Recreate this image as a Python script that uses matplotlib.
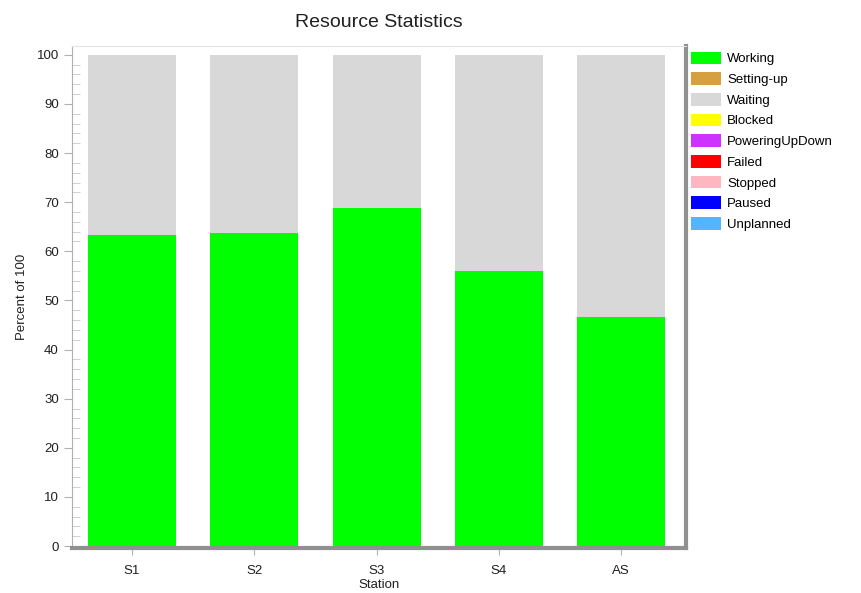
import numpy as np
import matplotlib.pyplot as plt
from matplotlib.patches import Patch
from matplotlib.ticker import MultipleLocator

plt.rcParams['font.family'] = ['Liberation Sans', 'DejaVu Sans']

stations = ['S1', 'S2', 'S3', 'S4', 'AS']
states = ['Working', 'Setting-up', 'Waiting', 'Blocked', 'PoweringUpDown',
          'Failed', 'Stopped', 'Paused', 'Unplanned']
colors = ['#00ff00', '#d4a040', '#d8d8d8', '#ffff00', '#cc33ff',
          '#ff0000', '#ffb6c1', '#0000ff', '#55b4ff']

working = [63.3, 63.7, 68.8, 56.0, 46.6]
setting_up = [0, 0, 0, 0, 0]
waiting = [100 - w for w in working]
blocked = [0, 0, 0, 0, 0]
powering = [0, 0, 0, 0, 0]
failed = [0, 0, 0, 0, 0]
stopped = [0, 0, 0, 0, 0]
paused = [0, 0, 0, 0, 0]
unplanned = [0, 0, 0, 0, 0]
series = [working, setting_up, waiting, blocked, powering,
          failed, stopped, paused, unplanned]

fig = plt.figure(figsize=(8.61, 5.93), dpi=100)
ax = fig.add_axes([72/861, 1-548/593, (686-72)/861, (548-46)/593])

x = np.arange(len(stations))
bottom = np.zeros(len(stations))
for vals, c in zip(series, colors):
    ax.bar(x, vals, width=0.72, bottom=bottom, color=c, linewidth=0)
    bottom += np.array(vals)

ax.set_xlim(-0.49, 4.53)
ax.set_ylim(-0.4, 101.8)
ax.set_xticks(x)
ax.set_xticklabels(stations)
ax.yaxis.set_major_locator(MultipleLocator(10))
ax.yaxis.set_minor_locator(MultipleLocator(2))
ax.tick_params(axis='y', which='major', direction='out', length=6, color='#b0b0b0',
               labelsize=9.5, labelcolor='#202020')
ax.tick_params(axis='y', which='minor', direction='in', length=6, color='#c8c8c8')
ax.tick_params(axis='x', direction='out', length=5, color='#b0b0b0',
               labelsize=9.5, labelcolor='#202020', pad=7)

ax.spines['left'].set_color('#b0b0b0')
ax.spines['top'].set_color('#e4e4e4')
ax.spines['bottom'].set_color('#909090')
ax.spines['bottom'].set_linewidth(3)
ax.spines['right'].set_color('#909090')
ax.spines['right'].set_linewidth(3)

ax.set_title('Resource Statistics', fontsize=14, color='#202020', pad=14)
ax.set_xlabel('Station', fontsize=9.5, color='#202020', labelpad=2)
ax.set_ylabel('Percent of 100', fontsize=9.5, color='#202020', labelpad=6)

handles = [Patch(facecolor=c, edgecolor='none', label=s) for s, c in zip(states, colors)]
fig.legend(handles=handles, loc='upper left', bbox_to_anchor=(688/861, 1-49/593),
           frameon=False, fontsize=9.5, handlelength=2.3, handleheight=1.1,
           labelspacing=0.52, handletextpad=0.45, borderaxespad=0, borderpad=0.2)

fig.savefig('out.png', dpi=100)
